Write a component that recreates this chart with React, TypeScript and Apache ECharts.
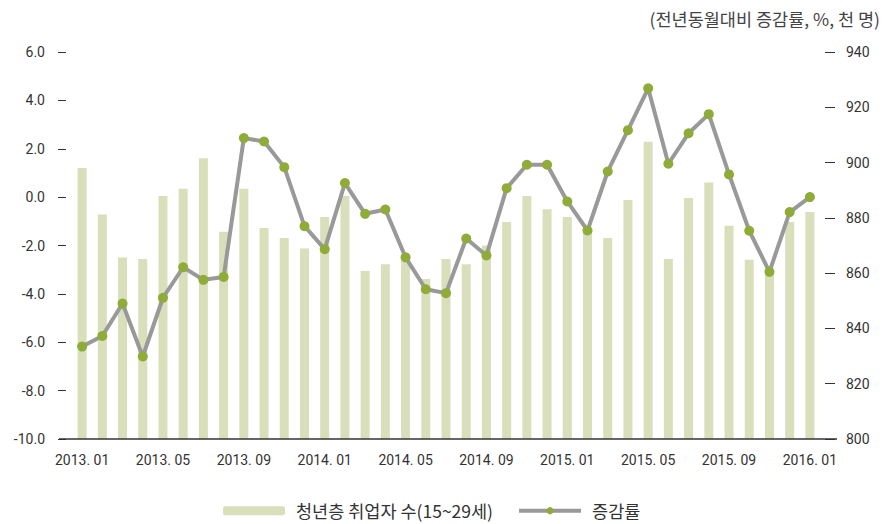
import React, { useEffect, useRef } from "react";
import * as echarts from "echarts";

const categories = [
  "2013. 01", "2013. 02", "2013. 03", "2013. 04", "2013. 05", "2013. 06", "2013. 07", "2013. 08",
  "2013. 09", "2013. 10", "2013. 11", "2013. 12", "2014. 01", "2014. 02", "2014. 03", "2014. 04",
  "2014. 05", "2014. 06", "2014. 07", "2014. 08", "2014. 09", "2014. 10", "2014. 11", "2014. 12",
  "2015. 01", "2015. 02", "2015. 03", "2015. 04", "2015. 05", "2015. 06", "2015. 07", "2015. 08",
  "2015. 09", "2015. 10", "2015. 11", "2015. 12", "2016. 01",
];

// 청년층 취업자 수 (천 명), right axis
const employed = [
  898.0, 881.2, 865.7, 865.1, 887.9, 890.5, 901.6, 875.0,
  890.5, 876.3, 872.7, 868.9, 880.3, 887.9, 860.8, 863.2,
  866.0, 857.9, 865.1, 863.2, 870.0, 878.5, 887.9, 883.1,
  880.3, 875.0, 872.7, 886.5, 907.5, 865.1, 887.2, 892.8,
  877.1, 864.8, 860.2, 878.5, 882.1,
];

// 증감률 (%), left axis
const changeRate = [
  -6.18, -5.74, -4.4, -6.59, -4.16, -2.9, -3.42, -3.3,
  2.44, 2.3, 1.24, -1.2, -2.15, 0.58, -0.69, -0.51,
  -2.49, -3.81, -3.97, -1.71, -2.41, 0.37, 1.34, 1.34,
  -0.18, -1.38, 1.06, 2.77, 4.5, 1.38, 2.64, 3.43,
  0.94, -1.39, -3.09, -0.62, 0.0,
];

const seriesNames = ["청년층 취업자 수(15~29세)", "증감률"];
const unitNote = "(전년동월대비 증감률, %, 천 명)";

const FONT = "Roboto, 'Noto Sans', sans-serif";
const KFONT = "'Noto Sans CJK KR', 'Noto Sans', sans-serif";

export default function App() {
  const ref = useRef<HTMLDivElement>(null);
  useEffect(() => {
    if (!ref.current) return;
    const chart = echarts.init(ref.current, undefined, { renderer: "svg" });
    chart.setOption({
      animation: false,
      backgroundColor: "#ffffff",
      title: {
        text: unitNote,
        right: 8,
        top: 5,
        textStyle: { fontFamily: KFONT, fontSize: 17.5, fontWeight: "normal", color: "#444444" },
      },
      legend: {
        data: [
          { name: seriesNames[0] },
          { name: seriesNames[1], lineStyle: { width: 4, color: "#999999" }, itemStyle: { color: "#8fab38" } },
        ],
        left: 218,
        top: 497,
        itemWidth: 62,
        itemHeight: 9,
        itemGap: 24,
        formatter: (name: string) => "{g|}{t|" + name + "}",
        textStyle: {
          fontFamily: KFONT,
          fontSize: 17.5,
          color: "#333333",
          rich: {
            g: { width: 6 },
            t: { fontFamily: KFONT, fontSize: 17.5, color: "#333333" },
          },
        },
        selectedMode: false,
      },
      grid: { left: 72, right: 73, top: 52, bottom: 85, containLabel: false },
      xAxis: {
        type: "category",
        data: categories,
        boundaryGap: true,
        axisLine: { show: false },
        axisTick: { show: false },
        axisLabel: {
          interval: 3,
          margin: 14,
          fontFamily: FONT,
          fontSize: 14,
          color: "#333333",
        },
      },
      yAxis: [
        {
          type: "value",
          min: -10,
          max: 6,
          interval: 2,
          position: "left",
          offset: 6,
          axisLine: { show: false },
          axisTick: { show: true, length: 8, lineStyle: { color: "#333333", width: 1 } },
          splitLine: { show: false },
          axisLabel: {
            margin: 21,
            fontFamily: FONT,
            fontSize: 14,
            color: "#333333",
            formatter: (v: number) => v.toFixed(1),
          },
        },
        {
          type: "value",
          min: 800,
          max: 940,
          interval: 20,
          position: "right",
          offset: 5,
          axisLine: { show: false },
          axisTick: { show: true, length: 10, lineStyle: { color: "#333333", width: 1 } },
          splitLine: { show: false },
          axisLabel: {
            margin: 21,
            fontFamily: FONT,
            fontSize: 14,
            color: "#333333",
          },
        },
      ],
      graphic: [
        {
          type: "line",
          shape: { x1: 59, y1: 439, x2: 837, y2: 439 },
          style: { stroke: "#333333", lineWidth: 1.5 },
          z: 10,
        },
      ],
      series: [
        {
          name: seriesNames[0],
          type: "bar",
          yAxisIndex: 1,
          data: employed,
          barWidth: 9,
          itemStyle: { color: "#d9dfbb" },
        },
        {
          name: seriesNames[1],
          type: "line",
          yAxisIndex: 0,
          data: changeRate,
          symbol: "circle",
          symbolSize: 10,
          lineStyle: { color: "#999999", width: 4 },
          itemStyle: { color: "#8fab38" },
          z: 5,
        },
      ],
    });
    return () => chart.dispose();
  }, []);
  return <div ref={ref} style={{ width: 893, height: 524, position: "absolute", left: 0, top: 0 }} />;
}
